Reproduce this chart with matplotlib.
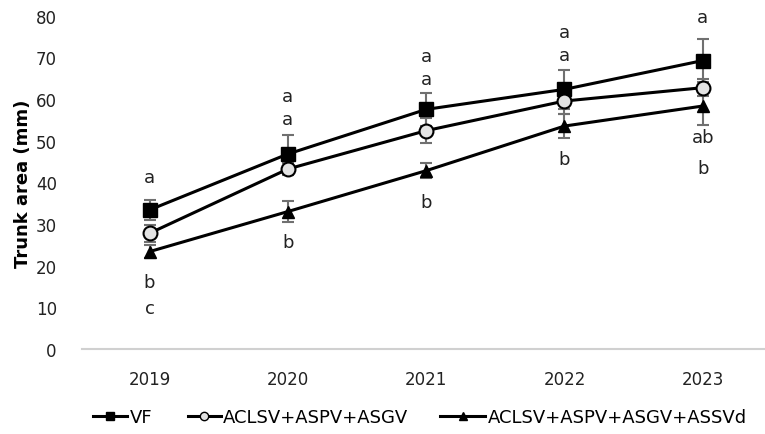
import matplotlib
matplotlib.use("Agg")
import matplotlib.pyplot as plt
from matplotlib.lines import Line2D

plt.rcParams['font.family'] = ['DejaVu Sans']

years = ["2019", "2020", "2021", "2022", "2023"]
series_names = ["VF", "ACLSV+ASPV+ASGV", "ACLSV+ASPV+ASGV+ASSVd"]
vf = [33.4, 46.8, 57.5, 62.3, 69.2]
vf_err = [2.4, 4.6, 4.0, 4.6, 5.2]
aa = [27.8, 43.2, 52.4, 59.5, 62.7]
aa_err = [2.0, 1.5, 3.0, 3.0, 2.0]
tri = [23.4, 33.0, 42.8, 53.5, 58.3]
tri_err = [1.5, 2.6, 1.8, 2.8, 4.6]

letters = [
    [("a", 41.4), ("b", 16.1), ("c", 9.8)],
    [("a", 60.6), ("a", 55.3), ("b", 25.6)],
    [("a", 70.4), ("a", 64.8), ("b", 35.2)],
    [("a", 76.1), ("a", 70.6), ("b", 45.5)],
    [("a", 79.7), ("ab", 50.8), ("b", 43.4)],
]

fig = plt.figure(figsize=(7.65, 4.35), dpi=100)
ax = fig.add_axes([0.107, 0.195, 0.893, 0.767])
x = list(range(len(years)))

styles = [
    dict(marker="s", mfc="black", mec="black", ms=9.5),
    dict(marker="o", mfc="#e3e3e3", mec="black", ms=10, mew=1.5),
    dict(marker="^", mfc="black", mec="black", ms=9),
]
data = [(vf, vf_err), (aa, aa_err), (tri, tri_err)]
for (vals, errs), st, name in zip(data, styles, series_names):
    ax.errorbar(x, vals, yerr=errs, ecolor="#707070", elinewidth=1.5, capsize=4,
                capthick=1.5, fmt="none", zorder=2)
    ax.plot(x, vals, color="black", lw=2.2, zorder=3, label=name, **st)

for i, lst in enumerate(letters):
    for txt, yv in lst:
        ax.text(i, yv, txt, ha="center", va="center", fontsize=13, color="#222222")

ax.set_xlim(-0.49, 4.45)
ax.set_ylim(0, 80)
ax.set_xticks(x)
ax.set_xticklabels(years)
ax.set_yticks(range(0, 81, 10))
ax.tick_params(axis="both", length=0, labelsize=12, colors="#222222")
ax.tick_params(axis="x", pad=15)
ax.tick_params(axis="y", pad=18)
for s in ["top", "right", "left"]:
    ax.spines[s].set_visible(False)
ax.spines["bottom"].set_color("#d0d0d0")
ax.spines["bottom"].set_linewidth(1.5)
ax.set_ylabel("Trunk area (mm)", fontsize=13, fontweight="bold", labelpad=3)

hs, ls = ax.get_legend_handles_labels()
lefts = [93 / 765, 188 / 765, 440 / 765]
hlens = [1.9, 1.8, 2.5]
for h, l, lx, hl in zip(hs, ls, lefts, hlens):
    h2 = Line2D([], [], color="black", lw=2.2, marker=h.get_marker(),
                mfc=h.get_markerfacecolor(), mec="black", ms=6)
    fig.legend([h2], [l], loc="center left", bbox_to_anchor=(lx, 0.039), frameon=False,
               fontsize=13, handlelength=hl, handletextpad=0.15, borderaxespad=0,
               borderpad=0)

fig.savefig("out.png", dpi=100)
